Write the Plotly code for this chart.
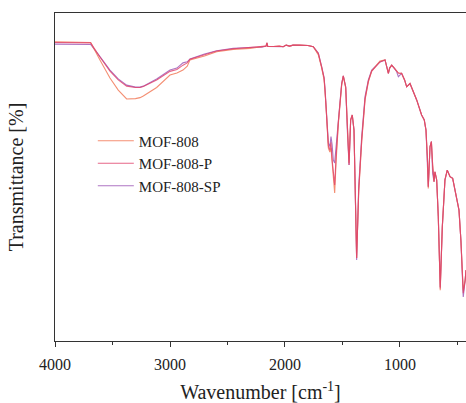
import plotly.graph_objects as go

# Wavenumbers (cm^-1)
wavenumber = [4000, 3750, 3690, 3609, 3522, 3450, 3377, 3300, 3261, 3232, 3145, 3116,
              3000, 2940, 2887, 2850, 2826, 2700, 2594, 2450, 2304, 2200, 2165, 2157,
              2150, 2100, 2050, 2015, 1990, 1960, 1930, 1870, 1800, 1754, 1710, 1681,
              1660, 1652, 1643, 1623, 1610, 1600, 1590, 1580, 1568, 1555, 1536, 1507,
              1493, 1472, 1458, 1443, 1429, 1415, 1400, 1388, 1377, 1359, 1333, 1304,
              1275, 1246, 1174, 1130, 1101, 1090, 1072, 1050, 1029, 1014, 986, 960,
              942, 913, 855, 812, 789, 774, 762, 754, 739, 727, 716, 704, 696, 681,
              667, 650, 632, 609, 589, 565, 542, 522, 502, 487, 470, 450, 433, 426]

# Transmittance (arbitrary %)
t_sp = [90.5, 90.5, 90.4, 86.7, 82.6, 79.9, 78.0, 77.4, 77.4, 77.7, 79.3, 79.9,
        82.6, 83.2, 84.8, 85.1, 86.0, 87.5, 88.5, 89.2, 89.5, 89.6, 89.9, 90.9,
        89.8, 89.8, 89.9, 89.7, 90.2, 89.9, 90.2, 90.2, 90.1, 89.7, 87.7, 83.6,
        80.2, 77.0, 72.6, 60.4, 59.3, 62.3, 59.8, 55.2, 54.3, 59.8, 67.4, 78.6,
        80.8, 77.5, 64.3, 53.7, 67.4, 68.9, 64.3, 47.0, 24.7, 47.0, 62.3, 74.5,
        79.6, 82.6, 85.1, 85.7, 81.6, 83.2, 84.1, 83.2, 82.1, 80.6, 81.6, 79.6,
        77.5, 78.5, 73.5, 68.9, 67.4, 64.3, 56.2, 47.0, 59.2, 60.8, 51.1, 48.6,
        51.6, 49.1, 37.9, 16.5, 34.8, 49.1, 52.1, 50.1, 49.6, 46.0, 42.0, 39.9,
        30.5, 13.4, 18.6, 21.6]
t_p = [91.0, 91.0, 90.9, 86.6, 82.3, 79.6, 77.7, 77.3, 77.3, 77.6, 79.0, 79.6,
       82.2, 82.8, 84.1, 84.8, 85.9, 87.2, 88.4, 89.1, 89.5, 89.6, 89.9, 90.9,
       89.8, 89.8, 89.9, 89.7, 90.2, 89.9, 90.2, 90.2, 90.1, 89.7, 87.7, 83.6,
       80.2, 76.5, 72.0, 59.5, 58.2, 60.6, 55.2, 51.5, 47.6, 56.7, 66.8, 78.4,
       80.8, 77.4, 64.3, 53.7, 67.4, 68.9, 64.3, 47.0, 25.3, 46.0, 61.3, 73.8,
       79.3, 82.3, 85.1, 85.7, 81.6, 83.2, 84.1, 83.2, 82.1, 81.7, 81.6, 79.6,
       77.5, 78.5, 73.5, 68.9, 67.4, 64.3, 56.2, 47.0, 59.2, 60.8, 53.5, 48.6,
       51.6, 49.1, 37.9, 16.0, 34.8, 49.1, 52.1, 50.1, 49.6, 46.0, 42.0, 39.9,
       30.5, 14.6, 18.6, 21.6]
t_808 = [91.2, 91.2, 91.0, 85.7, 80.2, 76.5, 73.8, 73.9, 74.2, 74.7, 76.5, 77.3,
         81.1, 81.7, 82.6, 83.8, 85.7, 86.9, 88.2, 88.9, 89.2, 89.6, 89.9, 90.9,
         89.8, 89.8, 89.9, 89.7, 90.2, 89.9, 90.2, 90.2, 90.1, 89.7, 87.2, 83.2,
         79.6, 75.9, 71.6, 58.8, 57.6, 58.8, 53.7, 49.1, 45.1, 55.2, 66.2, 78.0,
         80.8, 77.1, 64.3, 54.3, 67.4, 68.9, 64.3, 46.5, 25.3, 45.4, 60.7, 73.5,
         79.0, 82.3, 85.4, 85.7, 81.6, 83.2, 84.1, 83.2, 82.1, 81.7, 81.6, 79.6,
         77.5, 78.5, 73.5, 68.9, 67.4, 64.3, 56.2, 46.5, 59.2, 60.8, 53.8, 48.6,
         51.6, 49.1, 37.9, 15.5, 34.8, 49.1, 52.1, 50.1, 49.6, 46.0, 42.0, 39.9,
         30.5, 15.5, 18.6, 21.6]

series_names = ["MOF-808", "MOF-808-P", "MOF-808-SP"]
series_colors = ["#F27350", "#E0406A", "#9A52B4"]
series_values = [t_808, t_p, t_sp]
draw_order = [2, 0, 1]  # purple underneath, reds on top (as in the picture)

x_ticks = [4000, 3000, 2000, 1000]
x_tick_labels = ["4000", "3000", "2000", "1000"]
x_minor_ticks = [3500, 2500, 1500, 500]

fig = go.Figure()
for i in draw_order:
    fig.add_trace(go.Scatter(x=wavenumber, y=series_values[i], mode="lines",
                             name=series_names[i], legendrank=i + 1,
                             line=dict(color=series_colors[i], width=1.1), opacity=0.8))

serif = "Liberation Serif"
fig.update_layout(
    width=466, height=403,
    margin=dict(l=55, r=0, t=13, b=62, autoexpand=False),
    paper_bgcolor="white", plot_bgcolor="white",
    font=dict(family=serif, color="#222", size=15),
    showlegend=True,
    legend=dict(x=0.092, y=0.66, xanchor="left", yanchor="top",
                bgcolor="rgba(0,0,0,0)", font=dict(size=15, family=serif),
                itemwidth=36, tracegroupgap=0, traceorder="normal"),
    xaxis=dict(
        range=[4000, 426], autorange=False, automargin=False,
        tickmode="array", tickvals=x_ticks, ticktext=x_tick_labels,
        ticks="outside", ticklen=5, tickcolor="#333", tickwidth=1,
        ticklabelstandoff=4,
        minor=dict(tickmode="array", tickvals=x_minor_ticks, ticks="outside",
                   ticklen=3, tickcolor="#333", tickwidth=1),
        showline=True, linecolor="#333", linewidth=1.2, mirror=True,
        showgrid=False, zeroline=False,
        tickfont=dict(size=16, family=serif, color="#222"),
        title=dict(text="Wavenumber [cm<sup>-1</sup>]",
                   font=dict(size=20, family=serif, color="#222"), standoff=14),
    ),
    yaxis=dict(
        range=[0, 100], autorange=False, automargin=False,
        showticklabels=False, ticks="",
        showline=True, linecolor="#333", linewidth=1.2,
        showgrid=False, zeroline=False,
        title=dict(text="Transmittance [%]",
                   font=dict(size=20, family=serif, color="#222"), standoff=24),
    ),
)

fig.write_html("out.html")
